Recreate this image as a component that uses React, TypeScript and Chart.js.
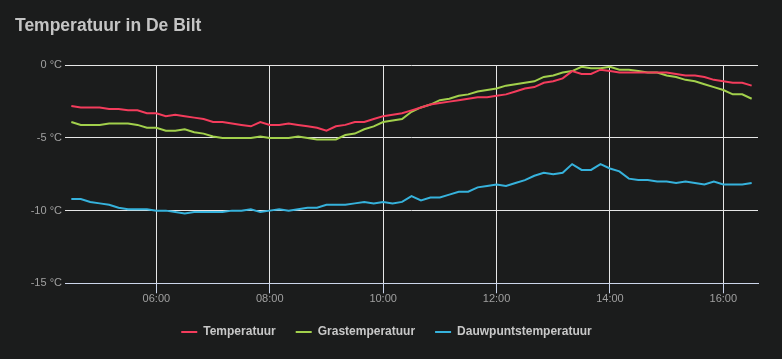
import React, { useEffect, useRef } from "react";
import { Chart, registerables } from "chart.js";

Chart.register(...registerables);

const times = [
  "04:30", "04:40", "04:50", "05:00", "05:10", "05:20", "05:30", "05:40", "05:50",
  "06:00", "06:10", "06:20", "06:30", "06:40", "06:50", "07:00", "07:10", "07:20",
  "07:30", "07:40", "07:50", "08:00", "08:10", "08:20", "08:30", "08:40", "08:50",
  "09:00", "09:10", "09:20", "09:30", "09:40", "09:50", "10:00", "10:10", "10:20",
  "10:30", "10:40", "10:50", "11:00", "11:10", "11:20", "11:30", "11:40", "11:50",
  "12:00", "12:10", "12:20", "12:30", "12:40", "12:50", "13:00", "13:10", "13:20",
  "13:30", "13:40", "13:50", "14:00", "14:10", "14:20", "14:30", "14:40", "14:50",
  "15:00", "15:10", "15:20", "15:30", "15:40", "15:50", "16:00", "16:10", "16:20",
  "16:30",
];

const temperatuur = [
  -2.8, -2.9, -2.9, -2.9, -3.0, -3.0, -3.1, -3.1, -3.3,
  -3.3, -3.5, -3.4, -3.5, -3.6, -3.7, -3.9, -3.9, -4.0,
  -4.1, -4.2, -3.9, -4.1, -4.1, -4.0, -4.1, -4.2, -4.3,
  -4.5, -4.2, -4.1, -3.9, -3.9, -3.7, -3.5, -3.4, -3.3,
  -3.1, -2.9, -2.7, -2.6, -2.5, -2.4, -2.3, -2.2, -2.2,
  -2.1, -2.0, -1.8, -1.6, -1.5, -1.2, -1.1, -0.9, -0.4,
  -0.6, -0.6, -0.3, -0.4, -0.5, -0.5, -0.5, -0.5, -0.5,
  -0.5, -0.6, -0.7, -0.7, -0.8, -1.0, -1.1, -1.2, -1.2,
  -1.4,
];

const grastemperatuur = [
  -3.9, -4.1, -4.1, -4.1, -4.0, -4.0, -4.0, -4.1, -4.3,
  -4.3, -4.5, -4.5, -4.4, -4.6, -4.7, -4.9, -5.0, -5.0,
  -5.0, -5.0, -4.9, -5.0, -5.0, -5.0, -4.9, -5.0, -5.1,
  -5.1, -5.1, -4.8, -4.7, -4.4, -4.2, -3.9, -3.8, -3.7,
  -3.2, -2.9, -2.7, -2.4, -2.3, -2.1, -2.0, -1.8, -1.7,
  -1.6, -1.4, -1.3, -1.2, -1.1, -0.8, -0.7, -0.5, -0.4,
  -0.1, -0.2, -0.2, -0.1, -0.3, -0.3, -0.4, -0.5, -0.5,
  -0.7, -0.8, -1.0, -1.1, -1.3, -1.5, -1.7, -2.0, -2.0,
  -2.3,
];

const dauwpuntstemperatuur = [
  -9.2, -9.2, -9.4, -9.5, -9.6, -9.8, -9.9, -9.9, -9.9,
  -10.0, -10.0, -10.1, -10.2, -10.1, -10.1, -10.1, -10.1, -10.0,
  -10.0, -9.9, -10.1, -10.0, -9.9, -10.0, -9.9, -9.8, -9.8,
  -9.6, -9.6, -9.6, -9.5, -9.4, -9.5, -9.4, -9.5, -9.4,
  -9.0, -9.3, -9.1, -9.1, -8.9, -8.7, -8.7, -8.4, -8.3,
  -8.2, -8.3, -8.1, -7.9, -7.6, -7.4, -7.5, -7.4, -6.8,
  -7.2, -7.2, -6.8, -7.1, -7.3, -7.8, -7.9, -7.9, -8.0,
  -8.0, -8.1, -8.0, -8.1, -8.2, -8.0, -8.2, -8.2, -8.2,
  -8.1,
];

const xTickLabels = ["06:00", "08:00", "10:00", "12:00", "14:00", "16:00"];
const yTickValues = [0, -5, -10, -15];

const BG = "#1b1c1c";
const FONT = '"Liberation Sans", Arial, sans-serif';

const toMin = (s: string) => {
  const [h, m] = s.split(":").map(Number);
  return h * 60 + m;
};
const fmt = (v: number) => {
  const h = Math.floor(v / 60);
  const m = Math.round(v - h * 60);
  return `${String(h).padStart(2, "0")}:${String(m).padStart(2, "0")}`;
};

export default function App() {
  const ref = useRef<HTMLCanvasElement | null>(null);

  useEffect(() => {
    document.body.style.margin = "0";
    document.body.style.background = BG;
    const mk = (label: string, values: number[], color: string) => ({
      label,
      data: times.map((t, i) => ({ x: toMin(t), y: values[i] })),
      borderColor: color,
      backgroundColor: color,
      borderWidth: 2,
      pointRadius: 0,
      pointHoverRadius: 0,
      tension: 0,
    });
    const chart = new Chart(ref.current as HTMLCanvasElement, {
      type: "line",
      data: {
        datasets: [
          mk("Temperatuur", temperatuur, "#f43c5c"),
          mk("Grastemperatuur", grastemperatuur, "#a2d04c"),
          mk("Dauwpuntstemperatuur", dauwpuntstemperatuur, "#36b2dc"),
        ],
      },
      options: {
        animation: false,
        responsive: false,
        layout: { padding: { left: 15, right: 24, top: 0, bottom: 11 } },
        plugins: {
          title: {
            display: true,
            text: "Temperatuur in De Bilt",
            align: "start",
            color: "#c4c4c4",
            font: { family: FONT, size: 17.5, weight: "bold" },
            padding: { top: 16, bottom: 28.3 },
          },
          legend: {
            position: "bottom",
            labels: {
              usePointStyle: true,
              pointStyle: "line",
              pointStyleWidth: 16,
              padding: 20,
              color: "#c8c8c8",
              font: { family: FONT, size: 12, weight: "bold" },
            },
          },
          tooltip: { enabled: false },
        },
        scales: {
          x: {
            type: "linear",
            min: 263.3,
            max: 996.7,
            afterBuildTicks: (axis: any) => {
              axis.ticks = xTickLabels.map((t) => ({ value: toMin(t) }));
            },
            afterFit: (axis: any) => {
              axis.height = 22.7;
            },
            ticks: {
              callback: (v: any) => fmt(Number(v)),
              color: "#a0a0a0",
              font: { family: FONT, size: 11 },
              padding: -1,
              maxRotation: 0,
              autoSkip: false,
            },
            grid: {
              color: "#e6e6e6",
              tickColor: "#ccd6eb",
              tickLength: 10,
              lineWidth: 1,
            },
            border: { display: true, color: "#ccd6eb" },
          },
          y: {
            min: -15,
            max: 0,
            afterBuildTicks: (axis: any) => {
              axis.ticks = yTickValues.map((v) => ({ value: v }));
            },
            afterFit: (axis: any) => {
              axis.width = 50;
            },
            ticks: {
              callback: (v: any) => `${v} °C`,
              color: "#a0a0a0",
              font: { family: FONT, size: 11 },
              padding: 3,
            },
            grid: {
              color: (ctx: any) => (ctx.tick && ctx.tick.value === -15 ? "#ccd6eb" : "#e6e6e6"),
              drawTicks: false,
              lineWidth: 1,
            },
            border: { display: false },
          },
        },
      } as any,
    });
    return () => chart.destroy();
  }, []);

  return (
    <div style={{ width: 782, height: 359, background: BG }}>
      <canvas ref={ref} width={782} height={359} style={{ display: "block" }} />
    </div>
  );
}
